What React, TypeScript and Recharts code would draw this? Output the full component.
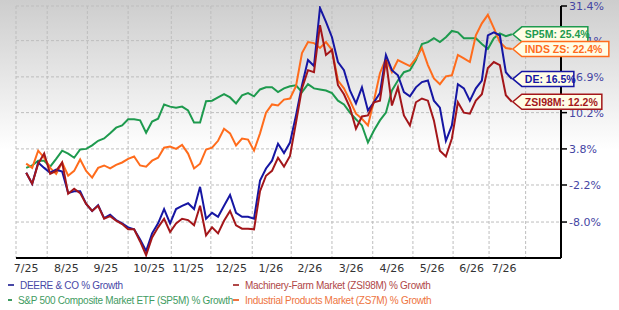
import React from 'react';
import { LineChart, Line, XAxis, YAxis, CartesianGrid, ReferenceDot } from 'recharts';

// % growth since 7/25, one point every few trading days
const deGrowth = [
  -0.2, -2.0, 1.5, 0.6, -0.2, 0.3, 0.0, -3.5, -3.2, -3.2,
  -5.2, -6.3, -5.4, -7.4, -6.9, -7.7, -8.2, -8.8, -9.1, -10.6,
  -12.3, -9.7, -8.2, -6.0, -8.2, -6.0, -5.5, -5.1, -6.0, -2.5,
  -7.5, -6.6, -7.2, -5.5, -3.8, -6.6, -7.2, -7.2, -7.5, -1.5,
  0.5, 1.8, 4.7, 3.1, 4.9, 9.7, 15.3, 20.2, 19.0, 31.0,
  28.0, 24.8, 19.8, 18.2, 14.3, 11.9, 14.9, 10.6, 12.1, 13.8,
  21.2, 18.2, 17.2, 14.0, 13.2, 14.9, 15.9, 16.2, 12.4, 11.1,
  5.2, 7.9, 15.5, 14.7, 12.4, 14.7, 16.2, 25.2, 25.8, 25.2,
  17.8, 16.5,
];
const farmGrowth = [
  -0.2, -2.0, 1.3, 3.0, -0.4, 0.1, 1.5, -3.6, -2.8, -3.5,
  -5.2, -6.3, -5.5, -7.5, -7.1, -7.8, -8.3, -9.1, -9.1, -10.9,
  -12.9, -10.3, -8.8, -7.5, -9.5, -8.2, -7.5, -7.7, -8.5, -5.5,
  -10.0, -8.8, -9.7, -7.8, -6.3, -8.5, -9.0, -9.0, -9.1, -3.2,
  -0.7, 0.1, 2.3, 0.8, 2.6, 8.4, 14.7, 18.2, 17.8, 27.3,
  21.2, 22.2, 15.3, 13.6, 11.1, 7.3, 9.5, 9.7, 12.1, 12.4,
  20.2, 11.5, 14.9, 9.7, 7.9, 12.1, 12.8, 12.4, 8.8, 3.5,
  2.5, 5.6, 12.1, 10.2, 10.0, 12.4, 13.6, 18.6, 19.8, 19.2,
  13.4, 12.2,
];
const spGrowth = [
  0.6, 1.0, 1.8, 1.8, 0.8, 2.1, 3.5, 3.0, 2.3, 3.7,
  3.8, 4.4, 5.2, 5.6, 6.5, 7.5, 7.9, 9.0, 9.0, 8.8,
  6.6, 8.6, 9.1, 11.7, 11.3, 11.1, 11.3, 10.6, 8.4, 8.4,
  12.3, 12.4, 13.0, 13.6, 13.0, 11.9, 13.4, 13.8, 13.2, 14.5,
  14.9, 14.9, 14.0, 14.7, 15.1, 15.3, 14.0, 15.5, 14.7, 14.5,
  14.3, 13.8, 12.4, 11.7, 10.2, 9.0, 7.9, 4.9, 7.0, 8.8,
  10.2, 14.3, 16.2, 17.8, 18.2, 20.2, 23.4, 23.8, 24.6, 23.8,
  24.8, 26.1, 25.8, 24.6, 24.6, 24.6, 23.4, 22.4, 24.6, 25.6,
  25.0, 25.4,
];
const indGrowth = [
  1.3, 0.6, 3.5, 2.3, 0.6, -0.4, 1.5, -0.7, 0.1, 2.0,
  0.1, -1.0, 0.6, 1.0, 0.5, 1.1, 1.5, 2.1, 2.5, 1.0,
  0.8, 1.8, 2.3, 4.0, 4.2, 3.8, 4.5, 3.0, 0.5, 1.3,
  3.7, 4.0, 5.2, 7.3, 6.5, 4.4, 5.6, 5.4, 3.5, 6.5,
  10.2, 11.7, 11.5, 12.6, 12.8, 15.1, 21.6, 23.8, 23.6, 22.6,
  23.8, 22.2, 16.2, 14.7, 12.4, 10.0, 9.1, 7.9, 12.4, 17.6,
  20.5, 17.8, 20.2, 19.6, 19.0, 20.5, 22.6, 19.2, 16.6, 15.5,
  17.0, 17.2, 21.2, 20.5, 19.8, 25.2, 27.7, 29.5, 26.7, 23.8,
  22.6, 22.4,
];

const monthLabels = ['7/25', '8/25', '9/25', '10/25', '11/25', '12/25', '1/26', '2/26', '3/26', '4/26', '5/26', '6/26', '7/26'];
const monthLabelAt = [0, 6.7, 13.3, 20.5, 27.0, 34.2, 40.8, 47.3, 54.2, 61.0, 67.7, 74.3, 79.7];
const monthLineAt = [3.5, 10.2, 17.0, 24.2, 30.8, 37.7, 44.2, 51.0, 57.8, 64.5, 71.2, 77.2, 83.3];
const yTicks = [-8.0, -2.2, 3.8, 10.2, 16.9, 24.1, 31.4];
const yRange = [-13.3, 31.4];
const xRange = [-1.7, 89.2];

const series = [
  { key: 'sp', values: spGrowth, tag: 'SP5M', name: 'S&P 500 Composite Market ETF (SP5M) % Growth', color: '#1e9a4e', text: '#3f9c62' },
  { key: 'ind', values: indGrowth, tag: 'INDS ZS', name: 'Industrial Products Market (ZS7M) % Growth', color: '#ff6c1c', text: '#ee7440' },
  { key: 'de', values: deGrowth, tag: 'DE', name: 'DEERE & CO % Growth', color: '#1616a3', text: '#4848a6' },
  { key: 'farm', values: farmGrowth, tag: 'ZSI98M', name: 'Machinery-Farm Market (ZSI98M) % Growth', color: '#a3161a', text: '#b04848' },
];
const legendOrder = ['de', 'farm', 'sp', 'ind'];

const toRatio = (g: number) => 1 + g / 100;

const data = deGrowth.map((_, i) => {
  const row: Record<string, number> = { i };
  series.forEach((s) => { row[s.key] = toRatio(s.values[i]); });
  return row;
});
const last = deGrowth.length - 1;

const W = 619;
const H = 278;
const yDomain = [toRatio(yRange[0]), toRatio(yRange[1])];

const Tag = ({ cx, cy, label, color }: any) => {
  const w = label.length * 7 - 2;
  const h = 15;
  const x0 = cx + 1;
  const pts = `${x0},${cy} ${x0 + 9},${cy - h / 2} ${x0 + w},${cy - h / 2} ${x0 + w},${cy + h / 2} ${x0 + 9},${cy + h / 2}`;
  return (
    <g>
      <polygon points={pts} fill="#fffde6" stroke={color} strokeWidth={1.5} />
      <text x={x0 + 12} y={cy + 4} fill={color} fontSize={10.5} fontWeight="bold" fontFamily="'Liberation Sans', Arial, sans-serif">
        {label}
      </text>
    </g>
  );
};

export default function App() {
  return (
    <div style={{ position: 'absolute', left: 0, top: 0, width: W, height: 310, overflow: 'hidden', background: 'linear-gradient(to bottom, #cdcdcd 0px, #ffffff 150px)' }}>
      <LineChart width={W} height={H} data={data} margin={{ top: 6, right: 0, left: 16, bottom: 0 }}>
        <CartesianGrid xAxisId="grid" stroke="#bdbdbd" strokeDasharray="3 2" />
        <XAxis xAxisId="grid" type="number" dataKey="i" domain={xRange} ticks={monthLineAt} allowDataOverflow hide />
        <XAxis
          type="number"
          dataKey="i"
          domain={xRange}
          ticks={monthLabelAt}
          allowDataOverflow
          interval={0}
          height={20}
          tickSize={4}
          tickLine={false}
          axisLine={{ stroke: '#000', strokeWidth: 2 }}
          tick={{ fill: '#333', fontSize: 11, fontFamily: "'DejaVu Sans', Verdana, sans-serif" }}
          tickFormatter={(v: number) => monthLabels[monthLabelAt.indexOf(v)] ?? ''}
        />
        <YAxis
          orientation="right"
          scale="log"
          domain={yDomain}
          ticks={yTicks.map(toRatio)}
          allowDataOverflow
          interval={0}
          width={58}
          tickSize={6}
          tickMargin={2}
          axisLine={{ stroke: '#000', strokeWidth: 2 }}
          tickLine={{ stroke: '#000', strokeWidth: 1.5 }}
          tick={{ fill: '#4545a3', fontSize: 11, fontFamily: "'DejaVu Sans', Verdana, sans-serif", textAnchor: 'start' }}
          tickFormatter={(v: number) => `${((v - 1) * 100).toFixed(1)}%`}
        />
        {series.map((s) => (
          <Line key={s.key} type="linear" dataKey={s.key} stroke={s.color} strokeWidth={2} dot={false} isAnimationActive={false} />
        ))}
      </LineChart>

      {/* value tags sit above the axis labels, so they get their own layer with the same scales */}
      <div style={{ position: 'absolute', left: 0, top: 0 }}>
        <LineChart width={W} height={H} data={data} margin={{ top: 6, right: 58, left: 16, bottom: 20 }}>
          <XAxis type="number" dataKey="i" domain={xRange} allowDataOverflow hide />
          <YAxis scale="log" domain={yDomain} allowDataOverflow hide />
          {series.map((s) => (
            <ReferenceDot
              key={`tag-${s.key}`}
              x={last}
              y={toRatio(s.values[last])}
              ifOverflow="visible"
              shape={(p: any) => <Tag cx={p.cx} cy={p.cy} color={s.color} label={`${s.tag}: ${s.values[last].toFixed(1)}%`} />}
            />
          ))}
        </LineChart>
      </div>

      <div style={{ position: 'absolute', left: 8, top: 278, width: 600, display: 'grid', gridTemplateColumns: '225px 375px', rowGap: 1, fontFamily: "'Liberation Sans', Arial, sans-serif", fontSize: 10, letterSpacing: -0.3, whiteSpace: 'nowrap' }}>
        {legendOrder.map((k) => {
          const s = series.find((x) => x.key === k)!;
          return (
            <div key={k} style={{ display: 'flex', alignItems: 'center', height: 14, color: s.text }}>
              <span style={{ display: 'inline-block', width: 6, height: 2, background: s.text, marginRight: 6 }} />
              {s.name}
            </div>
          );
        })}
      </div>
    </div>
  );
}
